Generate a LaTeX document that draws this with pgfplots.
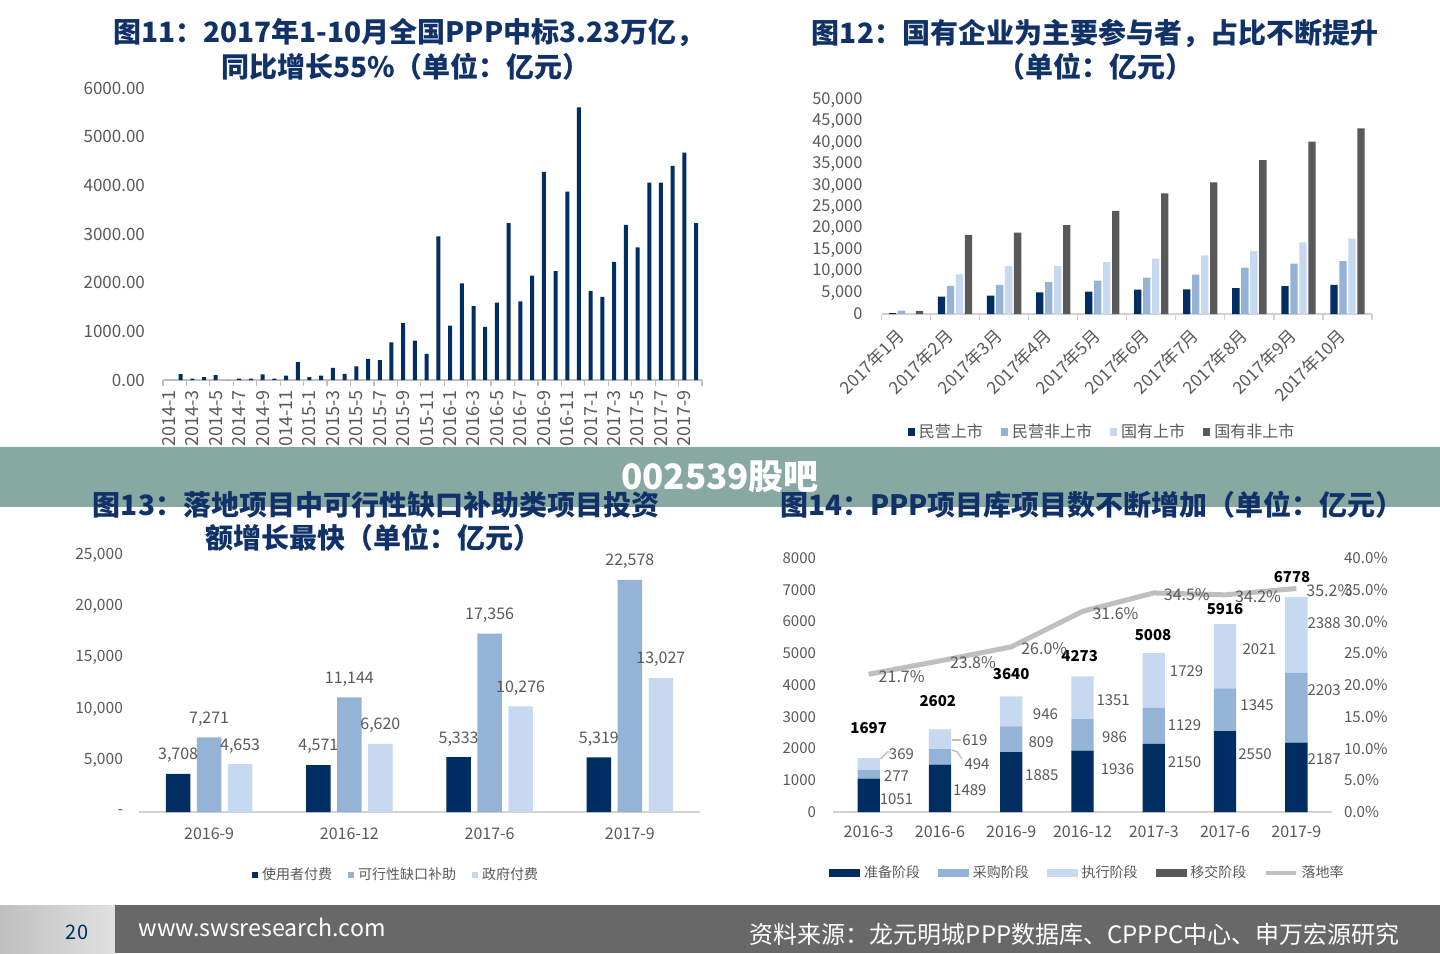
\documentclass[border=0pt]{standalone}
\usepackage{fontspec}
\setmainfont{Noto Sans CJK SC}
\usepackage{pgfplots}
\pgfplotsset{compat=1.18}

\definecolor{navy}{RGB}{0,45,98}
\definecolor{midb}{RGB}{149,179,215}
\definecolor{lightb}{RGB}{198,217,240}
\definecolor{dgray}{RGB}{89,89,89}
\definecolor{lgray}{RGB}{191,191,191}
\definecolor{axgray}{RGB}{210,210,210}
\definecolor{ttl}{RGB}{16,50,104}
\definecolor{bandc}{RGB}{136,168,162}
\definecolor{footc}{RGB}{104,104,104}
\definecolor{txtgray}{RGB}{89,89,89}

\newcommand\fs[1]{\fontsize{#1}{#1}\selectfont}

\pgfplotsset{
  /pgf/number format/assume math mode=true,
  every tick label/.append style={text=txtgray},
  scaled y ticks=false,
  myleg/.style={legend style={draw=none, fill=none, text=txtgray, legend cell align=left}},
}
\tikzset{
  seg/.style={font=\fs{7.5pt}, text=txtgray},
  tot/.style={font=\fs{7.5pt}\bfseries, text=black},
  ttlnode/.style={font=\fs{14pt}\bfseries, text=ttl, inner sep=0pt},
}

\begin{document}
\begin{tikzpicture}
\path[use as bounding box, fill=white] (0,0) rectangle (720pt,-476.5pt);

% ================= Chart 1 =================
\begin{axis}[
  at={(81.5pt,-190pt)}, anchor=south west, scale only axis,
  width=269.5pt, height=146pt,
  xmin=-0.5, xmax=45.5, ymin=0, ymax=6000,
  axis x line*=bottom, axis y line*=left,
  x axis line style={draw=lgray, line width=0.6pt},
  y axis line style={draw=none},
  ybar, bar width=2pt,
  ytick={0,1000,...,6000},
  ytick style={draw=none},
  yticklabel style={font=\fs{8.5pt}, /pgf/number format/.cd, fixed, fixed zerofill, precision=2, 1000 sep={}},
  yticklabel shift=2.5pt,
  xtick={-0.5,1.5,...,45.5}, xticklabels={},
  xtick style={draw=lgray, line width=0.6pt}, major tick length=3pt, tick align=outside,
  extra x ticks={0,2,...,44},
  extra x tick labels={2014-1,2014-3,2014-5,2014-7,2014-9,2014-11,2015-1,2015-3,2015-5,2015-7,2015-9,2015-11,2016-1,2016-3,2016-5,2016-7,2016-9,2016-11,2017-1,2017-3,2017-5,2017-7,2017-9},
  extra x tick style={major tick length=0pt, tick label style={rotate=90, anchor=east, font=\fs{9pt}}},
  xticklabel shift=1.5pt,
  clip=false,
]
\addplot[fill=navy, draw=none] coordinates {
(1,120)(2,30)(3,60)(4,100)(5,0)(6,30)(7,30)(8,117)(9,30)(10,90)
(11,365)(12,60)(13,90)(14,250)(15,125)(16,280)(17,435)(18,410)(19,775)(20,1170)
(21,810)(22,535)(23,2950)(24,1115)(25,1985)(26,1520)(27,1090)(28,1590)(29,3225)(30,1615)
(31,2145)(32,4275)(33,2235)(34,3870)(35,5600)(36,1830)(37,1710)(38,2425)(39,3190)(40,2725)
(41,4055)(42,4055)(43,4400)(44,4670)(45,3225)};
\end{axis}

% ================= Chart 2 =================
\begin{axis}[
  at={(440.75pt,-157pt)}, anchor=south west, scale only axis,
  width=245.25pt, height=107pt,
  xmin=-0.5, xmax=9.5, ymin=0, ymax=50000,
  axis x line*=bottom, axis y line*=left,
  x axis line style={draw=axgray, line width=0.6pt},
  y axis line style={draw=none},
  ybar=0.85pt, bar width=3.65pt,
  ytick={0,5000,...,50000}, ytick style={draw=none},
  yticklabel style={font=\fs{8.2pt}, /pgf/number format/.cd, fixed, 1000 sep={,}},
  yticklabel shift=3pt,
  xtick={-0.5,0.5,...,9.5}, xticklabels={},
  xtick style={draw=axgray, line width=0.6pt}, major tick length=3pt, tick align=outside,
  extra x ticks={0,...,9},
  extra x tick labels={2017年1月,2017年2月,2017年3月,2017年4月,2017年5月,2017年6月,2017年7月,2017年8月,2017年9月,2017年10月},
  extra x tick style={major tick length=0pt, tick label style={rotate=45, anchor=east, font=\fs{8.6pt}}},
  xticklabel shift=7pt,
  myleg, legend columns=4,
  legend style={at={(0.4516,-0.5514)}, anchor=center, font=\fs{8pt},
    /tikz/every even column/.append style={column sep=7pt}},
  clip=false,
]
\addplot[fill=navy, draw=none, legend image code/.code={\fill[navy] (0pt,-1.8pt) rectangle (3.6pt,1.8pt);}] coordinates {(0,200)(1,4050)(2,4280)(3,5060)(4,5220)(5,5690)(6,5760)(7,6070)(8,6540)(9,6780)};
\addplot[fill=midb, draw=none, legend image code/.code={\fill[midb] (0pt,-1.8pt) rectangle (3.6pt,1.8pt);}] coordinates {(0,800)(1,6600)(2,6780)(3,7480)(4,7790)(5,8490)(6,9190)(7,10830)(8,11760)(9,12380)};
\addplot[fill=lightb, draw=none, legend image code/.code={\fill[lightb] (0pt,-1.8pt) rectangle (3.6pt,1.8pt);}] coordinates {(0,0)(1,9270)(2,11210)(3,11210)(4,12150)(5,12930)(6,13710)(7,14720)(8,16740)(9,17600)};
\addplot[fill=dgray, draw=none, legend image code/.code={\fill[dgray] (0pt,-1.8pt) rectangle (3.6pt,1.8pt);}] coordinates {(0,750)(1,18460)(2,19000)(3,20790)(4,24070)(5,28190)(6,30760)(7,35980)(8,40260)(9,43380)};
\legend{民营上市,民营非上市,国有上市,国有非上市}
\end{axis}

% ================= Chart 3 =================
\begin{axis}[
  at={(69.5pt,-406pt)}, anchor=south west, scale only axis,
  width=280.5pt, height=128.5pt,
  xmin=-0.5, xmax=3.5, ymin=0, ymax=25000,
  axis x line*=bottom, axis y line*=left,
  x axis line style={draw=axgray, line width=0.8pt},
  y axis line style={draw=none},
  ybar=3.25pt, bar width=12.25pt,
  ytick={0,5000,...,25000}, ytick style={draw=none},
  yticklabels={{-\hspace{3.5pt}},{5,000},{10,000},{15,000},{20,000},{25,000}},
  yticklabel style={font=\fs{7.8pt}}, yticklabel shift=4.5pt,
  xtick={0,...,3}, xticklabels={2016-9,2016-12,2017-6,2017-9},
  xtick style={draw=none}, xticklabel style={font=\fs{8pt}}, xticklabel shift=0pt,
  nodes near coords={\pgfmathprintnumber[fixed,1000 sep={,}]{\pgfplotspointmeta}},
  every node near coord/.append style={font=\fs{8pt}, text=txtgray, yshift=2pt},
  myleg, legend columns=3,
  legend style={at={(0.46,-0.245)}, anchor=center, font=\fs{7pt},
    /tikz/every even column/.append style={column sep=6pt}},
  clip=false,
]
\addplot[fill=navy, draw=none, legend image code/.code={\fill[navy] (0pt,-1.5pt) rectangle (3pt,1.5pt);}] coordinates {(0,3708)(1,4571)(2,5333)(3,5319)};
\addplot[fill=midb, draw=none, legend image code/.code={\fill[midb] (0pt,-1.5pt) rectangle (3pt,1.5pt);}] coordinates {(0,7271)(1,11144)(2,17356)(3,22578)};
\addplot[fill=lightb, draw=none, legend image code/.code={\fill[lightb] (0pt,-1.5pt) rectangle (3pt,1.5pt);}] coordinates {(0,4653)(1,6620)(2,10276)(3,13027)};
\legend{使用者付费,可行性缺口补助,政府付费}
\end{axis}

% ================= Chart 4 (bars) =================
\begin{axis}[
  at={(416.5pt,-406pt)}, anchor=south west, scale only axis,
  width=249.5pt, height=127pt,
  xmin=-0.5, xmax=6.5, ymin=0, ymax=8000,
  axis x line*=bottom, axis y line*=left,
  x axis line style={draw=axgray, line width=0.8pt},
  y axis line style={draw=none},
  ybar stacked, bar width=11.15pt,
  ytick={0,1000,...,8000}, ytick style={draw=none}, xtick style={draw=none},
  yticklabel style={font=\fs{7.5pt}, /pgf/number format/.cd, fixed, 1000 sep={}},
  yticklabel shift=5pt,
  xtick={0,...,6}, xticklabels={2016-3,2016-6,2016-9,2016-12,2017-3,2017-6,2017-9},
  xticklabel style={font=\fs{8pt}}, xticklabel shift=3.5pt,
  clip=false,
]
\addplot[fill=navy, draw=none] coordinates {(0,1051)(1,1489)(2,1885)(3,1936)(4,2150)(5,2550)(6,2187)};
\addplot[fill=midb, draw=none] coordinates {(0,277)(1,494)(2,809)(3,986)(4,1129)(5,1345)(6,2203)};
\addplot[fill=lightb, draw=none] coordinates {(0,369)(1,619)(2,946)(3,1351)(4,1729)(5,2021)(6,2388)};
\addplot[fill=dgray, draw=none] coordinates {(0,0)(1,0)(2,0)(3,0)(4,0)(5,0)(6,0)};
\draw[lgray, line width=0.7pt] (axis cs:0.168,1669) -- (axis cs:0.266,1890) -- (axis cs:0.31,1890);
\draw[lgray, line width=0.7pt] (axis cs:1.168,2268) -- (axis cs:1.30,2268);
\draw[lgray, line width=0.7pt] (axis cs:1.168,1953) -- (axis cs:1.24,1900) -- (axis cs:1.31,1669);
\node[seg] at (axis cs:0.39,409) {1051};
\node[seg] at (axis cs:0.39,1134) {277};
\node[seg] at (axis cs:0.46,1827) {369};
\node[seg] at (axis cs:1.42,693) {1489};
\node[seg] at (axis cs:1.52,1512) {494};
\node[seg] at (axis cs:1.49,2268) {619};
\node[seg] at (axis cs:2.43,1165) {1885};
\node[seg] at (axis cs:2.42,2205) {809};
\node[seg] at (axis cs:2.48,3087) {946};
\node[seg] at (axis cs:3.49,1354) {1936};
\node[seg] at (axis cs:3.45,2362) {986};
\node[seg] at (axis cs:3.43,3528) {1351};
\node[seg] at (axis cs:4.43,1575) {2150};
\node[seg] at (axis cs:4.43,2740) {1129};
\node[seg] at (axis cs:4.46,4441) {1729};
\node[seg] at (axis cs:5.42,1827) {2550};
\node[seg] at (axis cs:5.45,3370) {1345};
\node[seg] at (axis cs:5.48,5134) {2021};
\node[seg] at (axis cs:6.39,1669) {2187};
\node[seg] at (axis cs:6.39,3843) {2203};
\node[seg] at (axis cs:6.39,5953) {2388};
\node[tot] at (axis cs:0,2646) {1697};
\node[tot] at (axis cs:0.97,3496) {2602};
\node[tot] at (axis cs:2,4347) {3640};
\node[tot] at (axis cs:2.96,4913) {4273};
\node[tot] at (axis cs:3.99,5575) {5008};
\node[tot] at (axis cs:5,6394) {5916};
\node[tot] at (axis cs:5.94,7402) {6778};
\end{axis}

% ================= Chart 4 (rate line) =================
\begin{axis}[
  at={(416.5pt,-406pt)}, anchor=south west, scale only axis,
  width=249.5pt, height=127pt,
  xmin=-0.5, xmax=6.5, ymin=0, ymax=40,
  axis x line=none, axis y line*=right,
  y axis line style={draw=none},
  ytick={0,5,...,40}, ytick style={draw=none},
  yticklabel={\pgfmathprintnumber[fixed,fixed zerofill,precision=1]{\tick}\%},
  yticklabel style={font=\fs{7.6pt}}, yticklabel shift=2.5pt,
  myleg, legend columns=5,
  legend style={at={(0.512,-0.240)}, anchor=center, font=\fs{7pt},
    /tikz/every even column/.append style={column sep=7pt}},
  clip=false,
]
\addlegendimage{legend image code/.code={\fill[navy] (0pt,-1.6pt) rectangle (15pt,1.6pt);}}
\addlegendentry{准备阶段}
\addlegendimage{legend image code/.code={\fill[midb] (0pt,-1.6pt) rectangle (15pt,1.6pt);}}
\addlegendentry{采购阶段}
\addlegendimage{legend image code/.code={\fill[lightb] (0pt,-1.6pt) rectangle (15pt,1.6pt);}}
\addlegendentry{执行阶段}
\addlegendimage{legend image code/.code={\fill[dgray] (0pt,-1.6pt) rectangle (15pt,1.6pt);}}
\addlegendentry{移交阶段}
\addplot[lgray, line width=2.5pt, mark=none,
  legend image code/.code={\draw[lgray, line width=1.6pt] (0pt,0pt) -- (15pt,0pt);},
  nodes near coords={\pgfmathprintnumber[fixed,fixed zerofill,precision=1]{\pgfplotspointmeta}\%},
  every node near coord/.append style={font=\fs{8pt}, text=txtgray, anchor=center, xshift=16.5pt, yshift=-1pt},
] coordinates {(0,21.7)(1,23.8)(2,26.0)(3,31.6)(4,34.5)(5,34.2)(6,35.2)};
\addlegendentry{落地率}
\end{axis}

% ================= Titles top =================
\node[ttlnode] at (204.5pt,-16.5pt) {图11：2017年1-10月全国PPP中标3.23万亿，};
\node[ttlnode] at (203pt,-33.5pt) {同比增长55\%（单位：亿元）};
\node[ttlnode] at (547.5pt,-16.5pt) {图12：国有企业为主要参与者，占比不断提升};
\node[ttlnode] at (547.5pt,-33.5pt) {（单位：亿元）};

% ================= Band =================
\fill[bandc] (0,-223.5pt) rectangle (720pt,-253.5pt);
\node[text=white, font=\fs{17.5pt}\bfseries] at (360pt,-238.5pt) {002539股吧};

\node[ttlnode] at (188pt,-252.5pt) {图13：落地项目中可行性缺口补助类项目投资};
\node[ttlnode] at (186.5pt,-269pt) {额增长最快（单位：亿元）};
\node[ttlnode] at (546pt,-252.5pt) {图14：PPP项目库项目数不断增加（单位：亿元）};

% ================= Footer =================
\shade[left color=black!25, middle color=white, right color=black!12] (0,-452.5pt) rectangle (57.5pt,-476.5pt);
\fill[footc] (57.5pt,-452.5pt) rectangle (720pt,-476.5pt);
\node[text=navy, font=\fs{10pt}] at (38.5pt,-466pt) {20};
\node[anchor=west, text=white, font=\fs{11.6pt}, inner sep=0pt] at (69pt,-463.5pt) {www.swsresearch.com};
\node[anchor=east, text=white, font=\fs{12pt}, inner sep=0pt] at (700pt,-467pt) {资料来源：龙元明城PPP数据库、CPPPC中心、申万宏源研究};
\end{tikzpicture}
\end{document}
